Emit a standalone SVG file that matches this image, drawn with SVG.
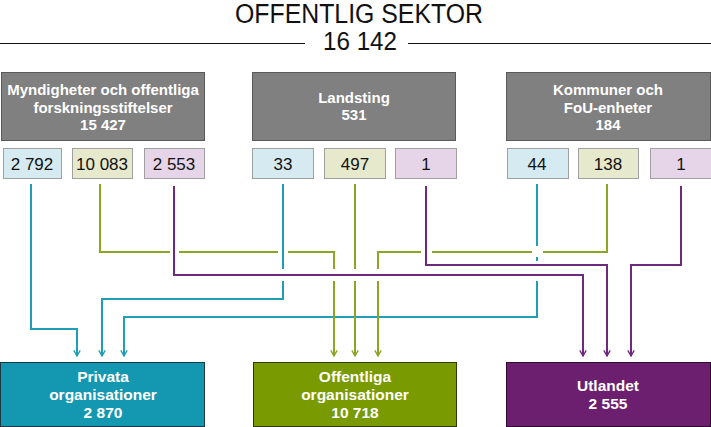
<svg xmlns="http://www.w3.org/2000/svg" width="711" height="427" viewBox="0 0 711 427">
<style>
.t{font-family:"Liberation Sans",Arial,sans-serif}
.gb{fill:#808080;stroke:#5a5a5a;stroke-width:1}
.gt{font-family:"Liberation Sans",Arial,sans-serif;font-weight:bold;font-size:15px;fill:#fff;text-anchor:middle}
.sb{stroke:#a0a0a0;stroke-width:1}
.b{fill:#d5eaf1}.g{fill:#e6e9cb}.p{fill:#e6d5e8}
.st{font-family:"Liberation Sans",Arial,sans-serif;font-size:17px;fill:#111;text-anchor:middle}
.bt{font-family:"Liberation Sans",Arial,sans-serif;font-weight:bold;font-size:15.5px;fill:#fff;text-anchor:middle}
.c{fill:none;stroke-width:2}
.ct{stroke:#1f9eb6;marker-end:url(#at)}
.cg{stroke:#8ba624;marker-end:url(#ag)}
.cp{stroke:#6e2a7e;marker-end:url(#ap)}
</style>
<defs>
<marker id="at" viewBox="0 0 10 10" refX="9" refY="5" markerWidth="7" markerHeight="11" markerUnits="userSpaceOnUse" orient="auto"><path d="M1,0.5 L9,5 L1,9.5" fill="none" stroke="#1f9eb6" stroke-width="2"/></marker>
<marker id="ag" viewBox="0 0 10 10" refX="9" refY="5" markerWidth="7" markerHeight="11" markerUnits="userSpaceOnUse" orient="auto"><path d="M1,0.5 L9,5 L1,9.5" fill="none" stroke="#8ba624" stroke-width="2"/></marker>
<marker id="ap" viewBox="0 0 10 10" refX="9" refY="5" markerWidth="7" markerHeight="11" markerUnits="userSpaceOnUse" orient="auto"><path d="M1,0.5 L9,5 L1,9.5" fill="none" stroke="#6e2a7e" stroke-width="2"/></marker>
</defs>
<rect width="711" height="427" fill="#fff"/>
<g id="title">
<text class="t" x="359" y="23" font-size="27" text-anchor="middle" fill="#111" textLength="248" lengthAdjust="spacingAndGlyphs">OFFENTLIG SEKTOR</text>
<text class="t" x="360" y="50" font-size="25" text-anchor="middle" fill="#111" textLength="74" lengthAdjust="spacingAndGlyphs">16 142</text>
<line x1="0" y1="43.5" x2="305" y2="43.5" stroke="#111" stroke-width="1.2"/>
<line x1="408" y1="43.5" x2="711" y2="43.5" stroke="#111" stroke-width="1.2"/>
</g>
<g id="myndigheter">
<rect class="gb" x="1.5" y="72.5" width="203" height="68"/>
<text class="gt" x="103" y="95">Myndigheter och offentliga</text>
<text class="gt" x="103" y="113">forskningsstiftelser</text>
<text class="gt" x="103" y="130">15 427</text>
</g>
<g id="landsting">
<rect class="gb" x="252.5" y="72.5" width="203" height="68"/>
<text class="gt" x="354" y="103">Landsting</text>
<text class="gt" x="354" y="120">531</text>
</g>
<g id="kommuner">
<rect class="gb" x="506.5" y="72.5" width="204" height="68"/>
<text class="gt" x="608" y="95">Kommuner och</text>
<text class="gt" x="608" y="113">FoU-enheter</text>
<text class="gt" x="608" y="130">184</text>
</g>
<g id="m-privata"><rect class="sb b" x="3.5" y="148.5" width="58" height="30"/><text class="st" x="32" y="170">2 792</text></g>
<g id="m-offentliga"><rect class="sb g" x="72.5" y="148.5" width="60" height="30"/><text class="st" x="102" y="170">10 083</text></g>
<g id="m-utlandet"><rect class="sb p" x="144.5" y="148.5" width="60" height="30"/><text class="st" x="174" y="170">2 553</text></g>
<g id="l-privata"><rect class="sb b" x="252.5" y="148.5" width="61" height="30"/><text class="st" x="283" y="170">33</text></g>
<g id="l-offentliga"><rect class="sb g" x="324.5" y="148.5" width="61" height="30"/><text class="st" x="355" y="170">497</text></g>
<g id="l-utlandet"><rect class="sb p" x="395.5" y="148.5" width="61" height="30"/><text class="st" x="426" y="170">1</text></g>
<g id="k-privata"><rect class="sb b" x="507.5" y="148.5" width="61" height="30"/><text class="st" x="537" y="170">44</text></g>
<g id="k-offentliga"><rect class="sb g" x="578.5" y="148.5" width="60" height="30"/><text class="st" x="608" y="170">138</text></g>
<g id="k-utlandet"><rect class="sb p" x="650.5" y="148.5" width="61" height="30"/><text class="st" x="681" y="170">1</text></g>
<g id="connectors">
<path class="c ct" d="M31,184 V329 H77 V356"/>
<path class="c ct" d="M283,184 V269 M283,281 V299 H102 V356"/>
<path class="c ct" d="M537,184 V246 M537,257 V261 M537,281 V317 H124 V356"/>
<path class="c cg" d="M100,184 V252 H170 M179,252 H278 M288,252 H334 V269 M334,281 V356"/>
<path class="c cg" d="M355,184 V269 M355,281 V356"/>
<path class="c cg" d="M607,184 V252 H543 M532,252 H432 M421,252 H378 V269 M378,281 V356"/>
<path class="c cp" d="M174,186 V275 H583 V356"/>
<path class="c cp" d="M426,186 V265 H607 V356"/>
<path class="c cp" d="M681,186 V265 H631 V356"/>
</g>
<g id="privata">
<rect x="0.5" y="362.5" width="204" height="64" fill="#1497b0" stroke="#1a3a40"/>
<text class="bt" x="103" y="382">Privata</text>
<text class="bt" x="103" y="400">organisationer</text>
<text class="bt" x="103" y="418">2 870</text>
</g>
<g id="offentliga">
<rect x="253.5" y="362.5" width="203" height="64" fill="#7a9a01" stroke="#2e3a05"/>
<text class="bt" x="355" y="382">Offentliga</text>
<text class="bt" x="355" y="400">organisationer</text>
<text class="bt" x="355" y="418">10 718</text>
</g>
<g id="utlandet">
<rect x="506.5" y="362.5" width="204" height="64" fill="#6b1f6e" stroke="#2e0c30"/>
<text class="bt" x="608" y="391">Utlandet</text>
<text class="bt" x="608" y="409">2 555</text>
</g>
</svg>
